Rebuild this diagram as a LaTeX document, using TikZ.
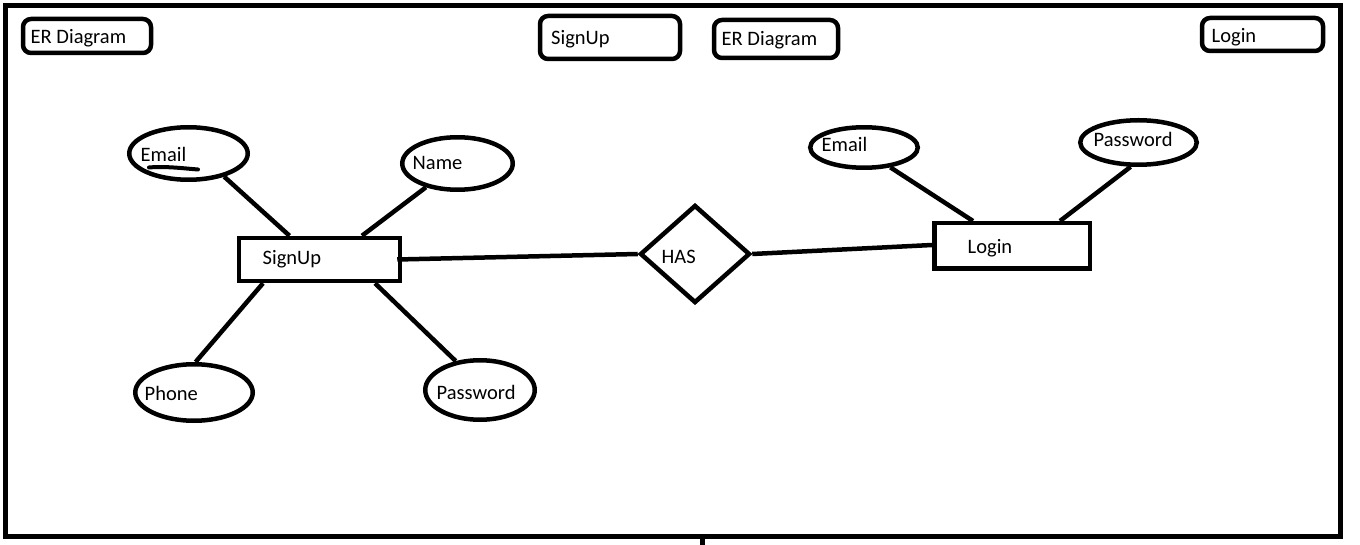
\documentclass[tikz,border=0pt]{standalone}
\usepackage{fontspec}
\setmainfont{Carlito}
\usetikzlibrary{shapes.geometric}
\begin{document}
\begin{tikzpicture}[x=1pt,y=-1pt,
  lw/.style={line width=4.5pt},
  txt/.style={anchor=base west, inner sep=0pt, yshift=-2pt, font=\fontsize{20.5}{24}\selectfont},
  tbox/.style={draw, lw, rounded corners=8pt, inner sep=0pt},
  attr/.style={draw, ellipse, lw, inner sep=0pt},
  ent/.style={draw, rectangle, lw, inner sep=0pt},
  rel/.style={draw, diamond, lw, inner sep=0pt},
  conn/.style={lw}]
\useasboundingbox (0,0) rectangle (1360,545);
% outer frame
\draw[line width=5pt] (5.8,5.8) rectangle (1340,536);
\coordinate (tk1) at (702.5,536);
\coordinate (tk2) at (702.5,545);
\draw[line width=5pt] (tk1) -- (tk2);

% title boxes
\node[tbox, minimum width=128pt, minimum height=34pt] (b1) at (87,36) {};
\node[txt] (b1t) at (30.5,42) {ER Diagram};
\node[tbox, minimum width=140pt, minimum height=43pt] (b2) at (610,37.5) {};
\node[txt] (b2t) at (551,43) {SignUp};
\node[tbox, minimum width=124pt, minimum height=38pt] (b3) at (776,39) {};
\node[txt] (b3t) at (721.5,44) {ER Diagram};
\node[tbox, minimum width=121pt, minimum height=33pt] (b4) at (1262.5,34.5) {};
\node[txt] (b4t) at (1211.5,41) {Login};

% SignUp entity and attributes
\node[ent, minimum width=161pt, minimum height=43pt] (s) at (319.5,259.5) {};
\node[txt] (st) at (262.5,263) {SignUp};
\node[attr, minimum width=118.5pt, minimum height=52.5pt] (e1) at (188.5,153.5) {};
\node[txt] (e1t) at (140.5,160) {Email};
\node[attr, minimum width=110.5pt, minimum height=52.5pt] (e2) at (457.5,163.5) {};
\node[txt] (e2t) at (412.5,168) {Name};
\node[attr, minimum width=117.5pt, minimum height=56.5pt] (e3) at (194,392.5) {};
\node[txt] (e3t) at (144.5,398) {Phone};
\node[attr, minimum width=109.5pt, minimum height=59.5pt] (e4) at (480,390) {};
\node[txt] (e4t) at (436.5,397) {Password};

% underline under Email
\coordinate (u1) at (149,167.5);
\coordinate (u2) at (198,169.5);
\draw[line width=4pt, line cap=round] (u1) .. controls (165,166) and (185,168.5) .. (u2);

% relationship
\node[rel, minimum width=110pt, minimum height=98pt] (h) at (695,254) {};
\node[txt] (ht) at (661.5,262) {HAS};

% Login entity and attributes
\node[ent, minimum width=155.5pt, minimum height=45.5pt] (l) at (1012,246) {};
\node[txt] (lt) at (967.5,252) {Login};
\node[attr, minimum width=107.5pt, minimum height=40.5pt] (e5) at (864,147.5) {};
\node[txt] (e5t) at (821.5,150) {Email};
\node[attr, minimum width=116.5pt, minimum height=44.5pt] (e6) at (1138.5,142.5) {};
\node[txt] (e6t) at (1093.5,145) {Password};

% connectors
\draw[conn] (e1.-33) -- ([xshift=-30pt]s.north);
\draw[conn] (e2.-143) -- ([xshift=42.5pt]s.north);
\draw[conn] ([xshift=-56.5pt]s.south) -- (e3.87);
\draw[conn] ([xshift=55.5pt]s.south) -- (e4.130);
\draw[conn] ([xshift=-5pt]s.east) -- (h.west);
\draw[conn] (h.east) -- ([yshift=1pt]l.west);
\draw[conn] (e5.-37) -- ([xshift=-39pt]l.north);
\draw[conn] (e6.-108) -- ([xshift=48pt]l.north);
\end{tikzpicture}
\end{document}
